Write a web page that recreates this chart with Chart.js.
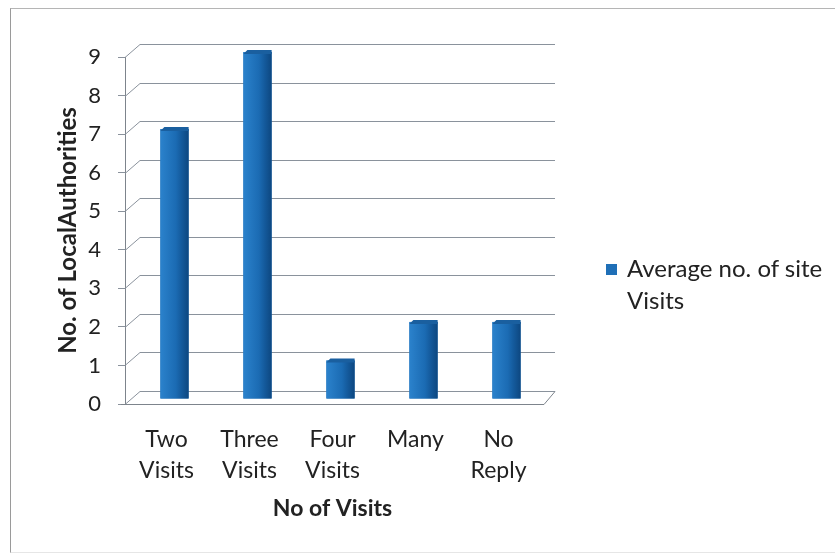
<!DOCTYPE html>
<html>
<head>
<meta charset="utf-8">
<script src="https://cdn.jsdelivr.net/npm/chart.js@4.4.1/dist/chart.umd.min.js"></script>
<style>
  html, body { margin: 0; padding: 0; background: #fff; }
  #wrap { position: relative; width: 835px; height: 555px; overflow: hidden; }
  #frame { position: absolute; left: 10px; top: 8px; width: 900px; height: 543px;
           border-left: 1px solid #9a9a9a; border-top: 1px solid #b5b5b5; border-bottom: 1px solid #e6e6e6; }
  #legend { position: absolute; left: 606px; top: 252px; font-family: Lato, sans-serif;
            font-size: 24px; color: #222; line-height: 32px; }
  #legend .box { display: inline-block; width: 11px; height: 11px; background: #1f6fb7;
                 margin-right: 10px; vertical-align: 2px; }
  #legend .l2 { padding-left: 21px; }
</style>
</head>
<body>
<div id="wrap">
  <div id="frame"></div>
  <canvas id="chart" width="835" height="555"></canvas>
  <div id="legend"></div>
</div>
<script>
// chart data
const categories = [['Two', 'Visits'], ['Three', 'Visits'], ['Four', 'Visits'], ['Many'], ['No', 'Reply']];
const siteVisits = [7, 9, 1, 2, 2];
const seriesName = 'Average no. of site Visits';
const yTicks = [0, 1, 2, 3, 4, 5, 6, 7, 8, 9];

// 3D look: depth offset of back wall
const DEPTH_X = 15, DEPTH_Y = -13;

document.getElementById('legend').innerHTML =
    '<div><span class="box"></span>Average no. of site</div><div class="l2">Visits</div>';

// draws the back wall grid, floor and the bar shading
const wallPlugin = {
    id: 'wall',
    beforeDatasetsDraw(chart) {
        const { ctx, chartArea: a, scales: { y } } = chart;
        ctx.save();
        ctx.strokeStyle = '#8a929c';
        ctx.lineWidth = 1;
        yTicks.forEach(v => {
            const py = Math.round(y.getPixelForValue(v)) + 0.5;
            ctx.beginPath();
            ctx.moveTo(a.left, py);
            ctx.lineTo(a.left + DEPTH_X, py + DEPTH_Y);
            ctx.lineTo(a.right + DEPTH_X, py + DEPTH_Y);
            ctx.stroke();
        });
        // floor front edge and right side
        const fy = Math.round(y.getPixelForValue(0)) + 0.5;
        ctx.strokeStyle = '#7d848c';
        ctx.beginPath();
        ctx.moveTo(a.left - 4, fy);
        ctx.lineTo(a.right + 4, fy);
        ctx.lineTo(a.right + DEPTH_X, fy + DEPTH_Y);
        ctx.stroke();
        ctx.restore();
        // shift bars into the middle of the depth
        ctx.save();
        ctx.translate(8, -5);
    },
    afterDatasetsDraw(chart) {
        const { ctx } = chart;
        chart.getDatasetMeta(0).data.forEach(bar => {
            const p = bar.getProps(['x', 'y', 'base', 'width'], true);
            const left = p.x - p.width / 2, right = p.x + p.width / 2;
            const g = ctx.createLinearGradient(left, 0, right, 0);
            g.addColorStop(0, '#2b82cc');
            g.addColorStop(0.55, '#1b6bb3');
            g.addColorStop(0.75, '#145a9c');
            g.addColorStop(1, '#0d4780');
            ctx.fillStyle = g;
            ctx.fillRect(left, p.y, p.width, p.base - p.y);
            // top cap
            ctx.fillStyle = '#1a5f9f';
            ctx.beginPath();
            ctx.moveTo(left, p.y + 2);
            ctx.lineTo(left + 4, p.y - 2);
            ctx.lineTo(right, p.y - 2);
            ctx.lineTo(right, p.y + 2);
            ctx.closePath();
            ctx.fill();
        });
        ctx.restore();
    }
};

const ctx = document.getElementById('chart').getContext('2d');
new Chart(ctx, {
    type: 'bar',
    data: {
        labels: categories,
        datasets: [{
            label: seriesName,
            data: siteVisits,
            backgroundColor: '#1c6cb4',
            borderWidth: 0,
            barPercentage: 0.34,
            categoryPercentage: 1
        }]
    },
    plugins: [wallPlugin],
    options: {
        responsive: false,
        animation: false,
        layout: { padding: { left: 50, top: 57, right: 295, bottom: 0 } },
        plugins: {
            legend: { display: false },
            tooltip: { enabled: false }
        },
        scales: {
            x: {
                afterFit: scale => { scale.height = 151; },
                grid: { display: false },
                border: { display: false },
                ticks: {
                    color: '#222',
                    padding: 12,
                    font: { family: 'Lato, sans-serif', size: 23, lineHeight: 1.35 }
                },
                title: {
                    display: true,
                    text: 'No of Visits',
                    color: '#222',
                    padding: { top: 0, bottom: 33 },
                    font: { family: 'Lato, sans-serif', size: 23, weight: 'bold' }
                }
            },
            y: {
                min: 0,
                max: 9,
                afterFit: scale => { scale.width = 75; },
                afterBuildTicks: scale => { scale.ticks = yTicks.map(v => ({ value: v })); },
                grid: { drawOnChartArea: false, tickLength: 7, color: '#8a929c' },
                border: { display: true, color: '#7d848c' },
                ticks: {
                    color: '#222',
                    padding: 17,
                    font: { family: 'Lato, sans-serif', size: 22 }
                },
                title: {
                    display: true,
                    text: 'No. of LocalAuthorities',
                    color: '#222',
                    padding: { top: 4, bottom: 0 },
                    font: { family: 'Lato, sans-serif', size: 24, weight: 'bold' }
                }
            }
        }
    }
});
</script>
</body>
</html>
